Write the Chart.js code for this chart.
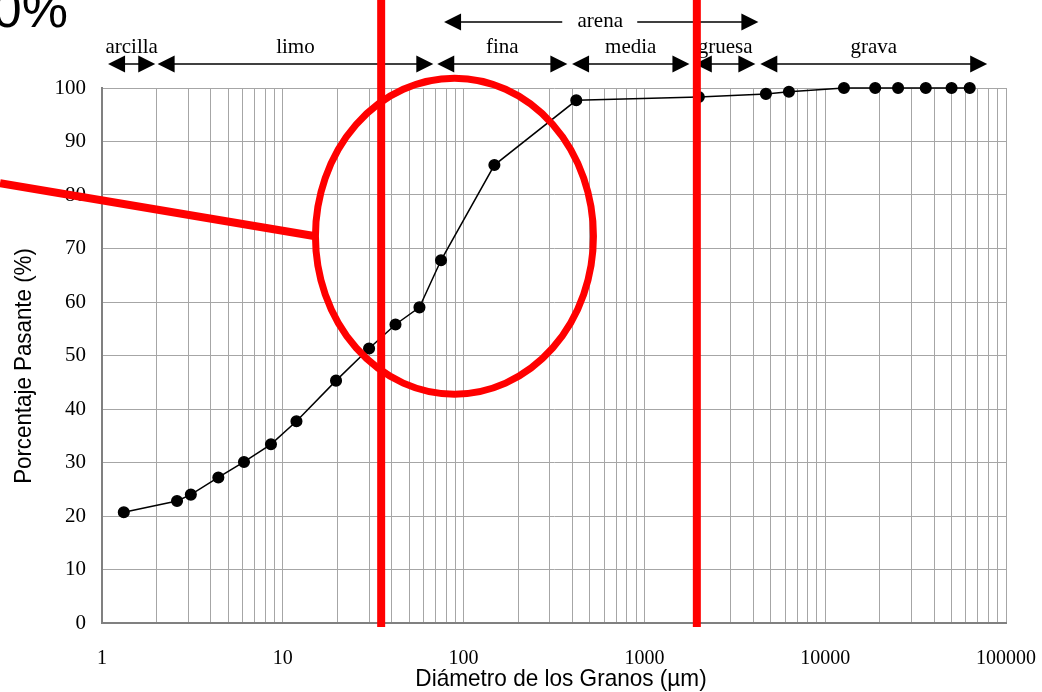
<!DOCTYPE html>
<html>
<head>
<meta charset="utf-8">
<script src="https://cdn.jsdelivr.net/npm/chart.js@4.4.1/dist/chart.umd.min.js"></script>
<style>
  html, body { margin: 0; padding: 0; background: #fff; }
  #wrap { width: 1042px; height: 692px; }
</style>
</head>
<body>
<div id="wrap"><canvas id="chart" width="1042" height="692"></canvas></div>
<script>
// Grain size curve: diameter (µm) vs. percent passing
const diameters = [1.32, 2.6, 3.1, 4.4, 6.1, 8.6, 11.9, 19.7, 30, 42, 57, 75, 148, 420, 2000, 4700, 6300, 12700, 18900, 25300, 36000, 50000, 63000];
const passing = [20.7, 22.8, 24.0, 27.2, 30.1, 33.4, 37.7, 45.3, 51.3, 55.8, 59.0, 67.8, 85.6, 97.7, 98.3, 98.9, 99.3, 100, 100, 100, 100, 100, 100];
const xTickLabels = [1, 10, 100, 1000, 10000, 100000];
const yTickLabels = [0, 10, 20, 30, 40, 50, 60, 70, 80, 90, 100];

// size classes shown above the plot (µm)
const classNames = ["arcilla", "limo", "fina", "media", "gruesa", "grava"];
const classFrom = [1.08, 2.03, 71.5, 398, 1900, 4375];
const classTo = [1.97, 68, 375, 1774, 4110, 78700];
const sandName = "arena";
const sandRange = [78, 4270];

// red markup
const markLines = [35, 1950];
const markCenter = [89, 72.3];

// minor grid on every 1..9 x 10^n
const xGrid = [];
for (let p = 0; p < 5; p++) {
  for (let m = 1; m < 10; m++) xGrid.push(m * Math.pow(10, p));
}
xGrid.push(100000);

const SERIF = '"Liberation Serif", "Times New Roman", serif';
const SANS = '"Liberation Sans", Arial, sans-serif';

function arrowHead(ctx, x, y, dir) {
  ctx.beginPath();
  ctx.moveTo(x, y);
  ctx.lineTo(x - dir * 17, y - 8.5);
  ctx.lineTo(x - dir * 17, y + 8.5);
  ctx.closePath();
  ctx.fill();
}

function doubleArrow(ctx, x1, x2, y) {
  ctx.beginPath();
  ctx.moveTo(x1 + 10, y);
  ctx.lineTo(x2 - 10, y);
  ctx.stroke();
  arrowHead(ctx, x1, y, -1);
  arrowHead(ctx, x2, y, 1);
}

const extras = {
  id: "extras",
  afterDraw(chart) {
    const ctx = chart.ctx;
    const xs = chart.scales.x;
    const ys = chart.scales.y;

    ctx.save();
    ctx.fillStyle = "#000";
    ctx.strokeStyle = "#000";
    ctx.lineWidth = 1.5;

    // class arrows
    ctx.font = "21px " + SERIF;
    ctx.textAlign = "center";
    ctx.textBaseline = "middle";
    classNames.forEach((name, i) => {
      const a = xs.getPixelForValue(classFrom[i]);
      const b = xs.getPixelForValue(classTo[i]);
      doubleArrow(ctx, a, b, 64);
      ctx.fillText(name, (a + b) / 2, 47);
    });

    // sand arrow with the label in a gap
    const s1 = xs.getPixelForValue(sandRange[0]);
    const s2 = xs.getPixelForValue(sandRange[1]);
    const sm = (s1 + s2) / 2;
    ctx.beginPath();
    ctx.moveTo(s1 + 10, 22);
    ctx.lineTo(sm - 39, 22);
    ctx.moveTo(sm + 36, 22);
    ctx.lineTo(s2 - 10, 22);
    ctx.stroke();
    arrowHead(ctx, s1, 22, -1);
    arrowHead(ctx, s2, 22, 1);
    ctx.fillText(sandName, sm - 1, 21);

    // axis titles
    ctx.font = "24px " + SANS;
    ctx.save();
    ctx.translate(24, 366);
    ctx.rotate(-Math.PI / 2);
    ctx.scale(0.93, 1);
    ctx.fillText("Porcentaje Pasante (%)", 0, 0);
    ctx.restore();
    ctx.save();
    ctx.translate(561, 679);
    ctx.scale(0.94, 1);
    ctx.fillText("Diámetro de los Granos (µm)", 0, 0);
    ctx.restore();

    // big percent text at the corner
    ctx.font = "52px " + SANS;
    ctx.textAlign = "right";
    ctx.textBaseline = "alphabetic";
    ctx.fillText("0%", 68, 27);

    // red markup
    ctx.strokeStyle = "#ff0000";
    ctx.lineCap = "butt";
    ctx.lineWidth = 8;
    const yEnd = ys.getPixelForValue(0) + 4;
    markLines.forEach((v) => {
      const px = xs.getPixelForValue(v);
      ctx.beginPath();
      ctx.moveTo(px, 0);
      ctx.lineTo(px, yEnd);
      ctx.stroke();
    });
    const cx = xs.getPixelForValue(markCenter[0]);
    const cy = ys.getPixelForValue(markCenter[1]);
    const rx = 139, ry = 158;
    ctx.lineWidth = 7;
    ctx.beginPath();
    ctx.ellipse(cx, cy, rx, ry, 0, 0, Math.PI * 2);
    ctx.stroke();
    ctx.lineWidth = 8;
    ctx.beginPath();
    ctx.moveTo(cx - rx, cy);
    ctx.lineTo(0, cy - 53);
    ctx.stroke();

    ctx.restore();
  }
};

const ctx = document.getElementById("chart").getContext("2d");
new Chart(ctx, {
  type: "scatter",
  data: {
    datasets: [
      {
        data: diameters.map((d, i) => ({ x: d, y: passing[i] })),
        showLine: true,
        borderColor: "#000",
        backgroundColor: "#000",
        borderWidth: 1.5,
        pointRadius: 5.3,
        pointHoverRadius: 5.3,
        clip: false,
      },
    ],
  },
  options: {
    responsive: false,
    animation: false,
    devicePixelRatio: 1,
    layout: { padding: { top: 88, right: 36, left: 0, bottom: 0 } },
    plugins: {
      legend: { display: false },
      tooltip: { enabled: false },
    },
    scales: {
      x: {
        type: "logarithmic",
        min: 1,
        max: 100000,
        afterBuildTicks: (s) => {
          s.ticks = xGrid.map((v) => ({ value: v }));
        },
        afterFit: (s) => {
          s.height = 69;
          // the end labels may overhang into the page margin
          s.paddingLeft = 0;
          s.paddingRight = 0;
        },
        grid: { color: "#a6a6a6", lineWidth: 1, drawTicks: false },
        border: { color: "#808080", width: 2 },
        ticks: {
          autoSkip: false,
          maxRotation: 0,
          padding: 24,
          color: "#000",
          font: { family: SERIF, size: 20 },
          callback: (v) => (xTickLabels.includes(v) ? String(v) : ""),
        },
      },
      y: {
        min: 0,
        max: 100,
        afterBuildTicks: (s) => {
          s.ticks = yTickLabels.map((v) => ({ value: v }));
        },
        afterFit: (s) => {
          s.width = 102;
        },
        grid: { color: "#a6a6a6", lineWidth: 1, drawTicks: false },
        border: { color: "#808080", width: 2 },
        ticks: {
          padding: 16,
          color: "#000",
          font: { family: SERIF, size: 21 },
        },
      },
    },
  },
  plugins: [extras],
});
</script>
</body>
</html>
